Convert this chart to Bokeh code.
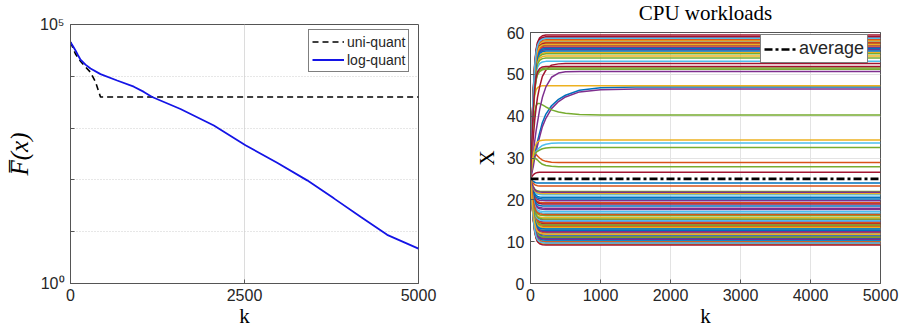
from itertools import zip_longest
from bokeh.plotting import figure
from bokeh.layouts import row, column
from bokeh.models import FixedTicker, Legend, LegendItem, ColumnDataSource, Range1d, LinearAxis
from bokeh.embed import file_html
from bokeh.resources import INLINE

# ---------------- left panel data ----------------
K_UNI = [0, 72, 144, 216, 287, 359, 431, 5000]
F_UNI = [45700, 26900, 19500, 15100, 12000, 7800, 3980, 3980]
K_LOG = [0, 36, 72, 108, 144, 215, 287, 431, 670, 910, 1054, 1173, 1580, 2060, 2514,
         2969, 3400, 3784, 4167, 4550, 5000]
F_LOG = [45700, 38000, 31600, 25500, 20900, 16800, 14100, 11000, 8300, 6300, 5000, 3980, 2340,
         1120, 468, 214, 98, 44, 19.5, 8.7, 4.7]
LEFT_X_TICKS = [0, 2500, 5000]
LEFT_Y_TICKS = [1, 10, 100, 1000, 10000, 100000]
LEFT_Y_LABELS = {1: "10\u2070", 100000: "10\u2075"}

# ---------------- right panel data ----------------
K_GRID = [0, 20, 40, 60, 80, 100, 130, 170, 220, 300, 400, 500, 700, 1000, 1500, 5000]
# fraction of the way from the start value to the final value (fast agents)
FAST_PROFILE = [0, .35, .62, .8, .9, .95, .98, .995, 1, 1, 1, 1, 1, 1, 1, 1]
START = 25.0
AVERAGE = 25.0

# final workloads of the fast agents, grouped by MATLAB colour order
FINAL_BLUE = [24.0, 20.6, 20.2, 18.5, 12.6, 11.3, 10.7, 10.4, 56.2, 55.6, 57.0, 13.0]
FINAL_ORANGE = [23.3, 19.3, 13.9, 13.6, 12.2, 11.0, 57.6, 58.3, 14.5, 9.9, 56.8, 16.5]
FINAL_YELLOW = [34.3, 15.7, 12.9, 55.2, 54.4, 10.0, 58.0, 9.4, 21.5, 13.4, 57.2, 11.8]
FINAL_PURPLE = [19.8, 18.0, 17.7, 14.7, 11.6, 9.5, 56.5, 55.9, 12.4, 10.6, 21.8]
FINAL_GREEN = [22.0, 16.2, 10.1, 54.9, 53.9, 51.5, 51.2, 14.0, 11.1, 15.4]
FINAL_CYAN = [21.2, 16.8, 11.9, 53.1, 57.9, 56.0, 10.3, 13.1, 15.0, 9.7, 17.2, 58.6]
FINAL_CRIMSON = [59.4, 26.6, 19.0, 15.2, 14.3, 13.2, 9.8, 9.2, 59.0, 57.4, 58.7, 51.9]

# slower agents, full trajectories on K_GRID
BLUE_47 = [25, 27, 29, 31, 32.5, 34, 36, 38.5, 40.5, 42.5, 44, 45, 46.2, 46.8, 47, 47]
PURPLE_46 = [25, 26.5, 28, 30, 31.5, 33, 35, 37.5, 39.5, 41.8, 43.5, 44.6, 45.8, 46.3, 46.5, 46.5]
PURPLE_51 = [25, 28, 31, 34, 36.5, 38.5, 41.5, 44.5, 47, 49.3, 50.3, 50.6, 50.7, 50.7, 50.7, 50.7]
CRIMSON_53 = [25, 30, 35, 39, 42, 44.5, 47, 49.5, 51, 52.2, 52.5, 52.6, 52.6, 52.6, 52.6, 52.6]
GREEN_40 = [25, 33, 38, 41, 42.5, 43, 43, 42.7, 42.2, 41.5, 41, 40.7, 40.4, 40.3, 40.3, 40.3]
YELLOW_47 = [25, 36, 42, 45, 46.3, 46.8, 47.1, 47.3, 47.3, 47.3, 47.3, 47.3, 47.3, 47.3, 47.3, 47.3]
CYAN_34 = [25, 29, 30.5, 31, 31.5, 32, 32.5, 33, 33.3, 33.5, 33.6, 33.6, 33.6, 33.6, 33.6, 33.6]
GREEN_32 = [25, 29, 30.5, 31, 31.3, 31.6, 31.9, 32.2, 32.4, 32.5, 32.5, 32.5, 32.5, 32.5, 32.5, 32.5]
ORANGE_29 = [25, 28.5, 30.5, 31, 30.8, 30.5, 30, 29.5, 29.2, 29.0, 28.9, 28.9, 28.9, 28.9, 28.9, 28.9]
GREEN_28 = [25, 28, 29.5, 30, 29.8, 29.5, 29, 28.5, 28.2, 28.0, 27.9, 27.9, 27.9, 27.9, 27.9, 27.9]

RIGHT_X_TICKS = [0, 1000, 2000, 3000, 4000, 5000]
RIGHT_Y_TICKS = [0, 10, 20, 30, 40, 50, 60]
RIGHT_TITLE = "CPU workloads"

C = {"blue": "#0072BD", "orange": "#D95319", "yellow": "#EDB120", "purple": "#7E2F8E",
     "green": "#77AC30", "cyan": "#4DBEEE", "crimson": "#A2142F"}
AX = "#262626"
SANS = "Liberation Sans"
SERIF = "Liberation Serif"


def style(p):
    p.outline_line_color = "#555555"
    p.outline_line_width = 1
    for ax in (p.xaxis, p.yaxis):
        ax.axis_line_color = "#555555"
        ax.major_tick_line_color = "#555555"
        ax.major_tick_in = 4
        ax.major_tick_out = 0
        ax.minor_tick_in = 0
        ax.minor_tick_out = 0
        ax.major_label_text_font = SANS
        ax.major_label_text_font_size = "16px"
        ax.major_label_text_color = AX
        ax.axis_label_text_color = "black"
        ax.axis_label_text_font = SERIF
        ax.axis_label_text_font_style = "normal"
        ax.axis_label_text_font_size = "21px"
        ax.major_label_standoff = 6
    p.xaxis.major_label_standoff = 5
    p.xaxis.axis_label_standoff = 0


# ---------------- left figure ----------------
p1 = figure(width=450, height=330, y_axis_type="log",
            x_range=Range1d(0, 5000), y_range=Range1d(1, 1e5),
            output_backend="svg", toolbar_location=None,
            min_border_left=70, min_border_right=32, min_border_top=24, min_border_bottom=40)
style(p1)
p1.xaxis.ticker = FixedTicker(ticks=LEFT_X_TICKS)
p1.yaxis.ticker = FixedTicker(ticks=LEFT_Y_TICKS)
p1.yaxis.major_label_overrides = {t: LEFT_Y_LABELS.get(t, "") for t in LEFT_Y_TICKS}
p1.xaxis.axis_label = "k"
p1.yaxis.axis_label = "F\u0305(x)"
p1.yaxis.axis_label_text_font_style = "italic"
p1.yaxis.axis_label_text_font_size = "25px"
p1.yaxis.axis_label_standoff = 4
p1.xgrid.grid_line_color = "#dcdcdc"
p1.ygrid.grid_line_color = "#cfcfcf"
p1.ygrid.grid_line_dash = "1 2"

r_uni = p1.line(K_UNI, F_UNI, line_color="black", line_width=1.6, line_dash="6 4")
r_log = p1.line(K_LOG, F_LOG, line_color="#1414E6", line_width=1.8)
leg1 = Legend(items=[LegendItem(label="uni-quant", renderers=[r_uni]),
                     LegendItem(label="log-quant", renderers=[r_log])],
              location=(238, 211))
leg1.label_text_font = SANS
leg1.label_text_font_size = "14px"
leg1.label_text_color = AX
leg1.glyph_width = 32
leg1.glyph_height = 17
leg1.label_height = 17
leg1.label_standoff = 3
leg1.spacing = 1
leg1.padding = 3
leg1.margin = 0
leg1.border_line_color = "black"
leg1.border_line_width = 1
leg1.background_fill_color = "white"
leg1.background_fill_alpha = 1
p1.add_layout(leg1, "center")

# ---------------- right figure ----------------
p2 = figure(width=449, height=333,
            x_range=Range1d(0, 5000), y_range=Range1d(0, 60),
            output_backend="svg", toolbar_location=None,
            min_border_left=80, min_border_right=19, min_border_top=20, min_border_bottom=40)
p2.margin = (-3, 0, 0, 0)
style(p2)
p2.title.visible = False
p2.xaxis.ticker = FixedTicker(ticks=RIGHT_X_TICKS)
p2.yaxis.ticker = FixedTicker(ticks=RIGHT_Y_TICKS)
p2.xaxis.axis_label = "k"
p2.yaxis.axis_label = "X"
p2.yaxis.axis_label_standoff = 5
p2.xgrid.grid_line_color = "#e3e3e3"
p2.ygrid.grid_line_color = "#e3e3e3"

# title drawn as the label of a bare top axis (no ticks, no tick labels)
top_axis = LinearAxis(ticker=FixedTicker(ticks=[]), axis_label=RIGHT_TITLE,
                      axis_label_text_font=SERIF, axis_label_text_font_style="normal",
                      axis_label_text_font_size="21px", axis_label_text_color="black",
                      axis_label_text_line_height=1.0,
                      axis_label_standoff=8, major_label_standoff=0,
                      major_tick_in=0, major_tick_out=0,
                      minor_tick_in=0, minor_tick_out=0, axis_line_color="#555555")
p2.add_layout(top_axis, "above")

order = ["blue", "orange", "yellow", "purple", "green", "cyan", "crimson"]
groups = [FINAL_BLUE, FINAL_ORANGE, FINAL_YELLOW, FINAL_PURPLE, FINAL_GREEN, FINAL_CYAN, FINAL_CRIMSON]
xs, ys, cols = [], [], []
slow = [("blue", BLUE_47), ("orange", ORANGE_29), ("yellow", YELLOW_47), ("purple", PURPLE_46),
        ("green", GREEN_40), ("cyan", CYAN_34), ("crimson", CRIMSON_53),
        ("purple", PURPLE_51), ("green", GREEN_32), ("green", GREEN_28)]
for name, traj in slow:
    xs.append(K_GRID)
    ys.append(traj)
    cols.append(C[name])
for rnd in zip_longest(*groups):
    for name, fin in zip(order, rnd):
        if fin is None:
            continue
        xs.append(K_GRID)
        ys.append([START + (fin - START) * f for f in FAST_PROFILE])
        cols.append(C[name])
src = ColumnDataSource(dict(xs=xs, ys=ys, color=cols))
p2.multi_line("xs", "ys", source=src, line_color="color", line_width=1.5)

r_avg = p2.line([0, 5000], [AVERAGE, AVERAGE], line_color="black", line_width=2.6,
                line_dash="8 3 3 3")
leg2 = Legend(items=[LegendItem(label="average", renderers=[r_avg])], location=(230, 220))
leg2.label_text_font = SANS
leg2.label_text_font_size = "18px"
leg2.label_text_color = AX
leg2.glyph_width = 33
leg2.glyph_height = 20
leg2.label_height = 20
leg2.label_standoff = 2
leg2.padding = 3
leg2.margin = 0
leg2.border_line_color = "black"
leg2.border_line_width = 1
leg2.background_fill_color = "white"
leg2.background_fill_alpha = 1
p2.add_layout(leg2, "center")

layout = row(column(p1), column(p2))
open("out.html", "w").write(file_html(layout, INLINE))
